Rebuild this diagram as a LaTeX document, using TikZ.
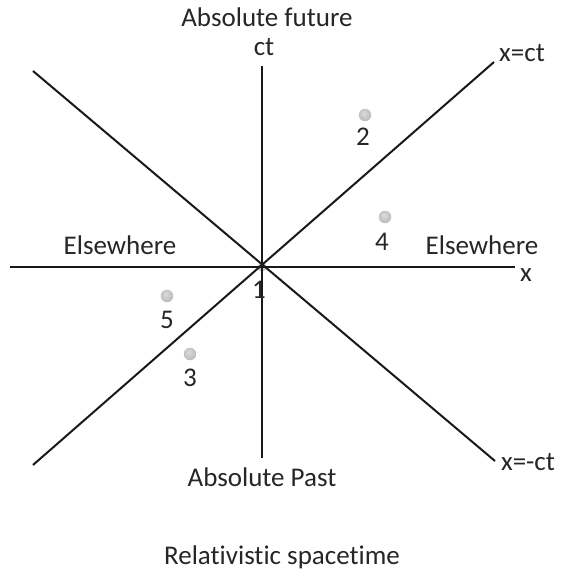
\documentclass[tikz,border=0pt]{standalone}
\usepackage{fontspec}
\setmainfont{Carlito}[Ligatures=NoCommon]
\usetikzlibrary{shadings}
\pgfdeclareradialshading{evball}{\pgfpoint{-5bp}{8bp}}{color(0bp)=(gray!28); color(22bp)=(gray!48); color(45bp)=(gray!62); color(70bp)=(gray!68)}
\begin{document}
\begin{tikzpicture}[x=1pt,y=-1pt,
  axis/.style={line width=2pt,draw=black!90},
  lbl/.style={font=\fontsize{27}{31}\selectfont,text=black!85,inner sep=0pt},
  ev/.style={circle,inner sep=0pt,minimum size=12.5pt,shading=evball}]
\useasboundingbox (0,0) rectangle (564,577);
\coordinate (O) at (262,267);
\node[ev,minimum size=9pt] (e1) at (O) {};
\coordinate (N) at (262,66);
\coordinate (S) at (262,458);
\coordinate (W) at (10,267);
\coordinate (E) at (515,267);
\coordinate (NE) at (494,62);
\coordinate (NW) at (33,71);
\coordinate (SW) at (33,465);
\coordinate (SE) at (495,461);
\draw[axis] (N) -- (S);
\draw[axis] (W) -- (E);
\draw[axis] (SW) -- (NE);
\draw[axis] (NW) -- (SE);
\node[ev] (e2) at (365,115) {};
\node[ev] (e4) at (385,217) {};
\node[ev] (e5) at (167,296) {};
\node[ev] (e3) at (190,354) {};
\node[lbl] (l1) at (259,290) {1};
\node[lbl] (l2) at (363,137) {2};
\node[lbl] (l3) at (190,378) {3};
\node[lbl] (l4) at (382,242) {4};
\node[lbl] (l5) at (167,320) {5};
\node[lbl] (fut) at (267,17) {Absolute future};
\node[lbl] (ct) at (264,47) {ct};
\node[lbl] (xct) at (522,53) {x=ct};
\node[lbl] (elw) at (120,245) {Elsewhere};
\node[lbl] (ele) at (482,245) {Elsewhere};
\node[lbl] (x) at (526,275) {x};
\node[lbl] (xmct) at (528,462) {x=-ct};
\node[lbl] (past) at (262,477) {Absolute Past};
\node[lbl] (title) at (282,557) {Relativistic spacetime};
\end{tikzpicture}
\end{document}
